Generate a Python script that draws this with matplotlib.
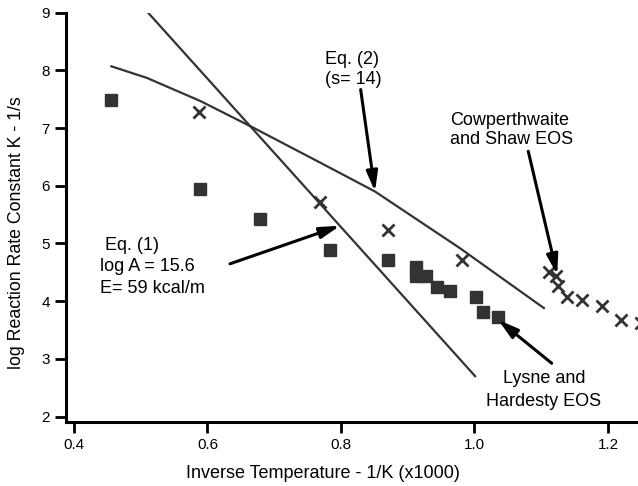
import matplotlib
matplotlib.use("Agg")
import matplotlib.pyplot as plt

plt.rcParams['font.family'] = ['Liberation Sans', 'DejaVu Sans']

# data
sq_x = [0.456, 0.589, 0.678, 0.783, 0.871, 0.912, 0.912, 0.928, 0.944, 0.963, 1.002, 1.013, 1.036]
sq_y = [7.48, 5.95, 5.43, 4.89, 4.72, 4.60, 4.43, 4.43, 4.25, 4.17, 4.07, 3.82, 3.73]

cross_x = [0.588, 0.768, 0.871, 0.982, 1.111, 1.122, 1.125, 1.138, 1.161, 1.191, 1.220, 1.250]
cross_y = [7.27, 5.71, 5.24, 4.71, 4.51, 4.44, 4.27, 4.08, 4.02, 3.92, 3.68, 3.62]

eq1_x = [0.511, 1.001]
eq1_y = [9.0, 2.70]

eq2_x = [0.456, 0.509, 0.589, 0.668, 0.769, 0.851, 0.978, 1.104]
eq2_y = [8.07, 7.87, 7.47, 7.01, 6.40, 5.90, 4.92, 3.88]

x_ticks = [0.4, 0.6, 0.8, 1.0, 1.2]
y_ticks = [2, 3, 4, 5, 6, 7, 8, 9]

fig = plt.figure(figsize=(6.38, 4.86), dpi=100)
ax = fig.add_axes([0.103, 0.131, 0.897, 0.843])

dark = '#333333'
ax.plot(eq1_x, eq1_y, color=dark, lw=1.6)
ax.plot(eq2_x, eq2_y, color=dark, lw=1.6)
ax.plot(sq_x, sq_y, ls='none', marker='s', ms=8.3, color=dark)
ax.plot(cross_x, cross_y, ls='none', marker='x', ms=8, mew=2.0, color=dark)

ax.set_xlim(0.3876, 1.245)
ax.set_ylim(1.9, 9.0)
ax.set_xticks(x_ticks)
ax.set_yticks(y_ticks)

for s in ['top', 'right']:
    ax.spines[s].set_visible(False)
for s in ['left', 'bottom']:
    ax.spines[s].set_linewidth(2.2)
ax.tick_params(length=8, width=2, labelsize=11, direction='out')

ax.set_xlabel('Inverse Temperature - 1/K (x1000)', fontsize=13)
ax.set_ylabel('log Reaction Rate Constant K - 1/s', fontsize=12.8)
ax.xaxis.set_label_coords(0.449, -0.105)
ax.yaxis.set_label_coords(-0.072, 0.463)

# annotations with arrows
arrow = dict(arrowstyle='-|>,head_length=0.6,head_width=0.17', color='black',
             lw=2.2, mutation_scale=20, shrinkA=0, shrinkB=0)
fs = 13

ax.text(0.776, 8.33, 'Eq. (2)\n(s= 14)', fontsize=fs, ha='left', va='top', linespacing=1.2)
ax.annotate('', xy=(0.851, 5.90), xytext=(0.8295, 7.667), arrowprops=arrow)

ax.text(0.963, 7.28, 'Cowperthwaite\nand Shaw EOS', fontsize=fs, ha='left', va='top', linespacing=1.17)
ax.annotate('', xy=(1.124, 4.457), xytext=(1.0806, 6.597), arrowprops=arrow)

ax.text(0.439, 5.12, ' Eq. (1)\nlog A = 15.6\nE= 59 kcal/m', fontsize=fs, ha='left', va='top', linespacing=1.38)
ax.annotate('', xy=(0.7985, 5.307), xytext=(0.6337, 4.647), arrowprops=arrow)

ax.text(1.104, 2.81, 'Lysne and\nHardesty EOS', fontsize=fs, ha='center', va='top', linespacing=1.45)
ax.annotate('', xy=(1.0357, 3.675), xytext=(1.1157, 2.924), arrowprops=arrow)

plt.savefig('out.png', dpi=100)
